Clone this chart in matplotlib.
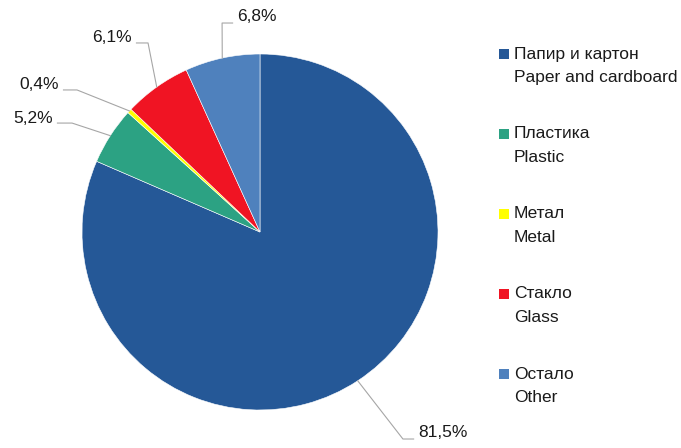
import numpy as np
import matplotlib.pyplot as plt
from matplotlib.patches import Rectangle

plt.rcParams['font.family'] = ['Liberation Sans Narrow', 'Liberation Sans', 'DejaVu Sans']

# data
labels_mk = ['Папир и картон', 'Пластика', 'Метал', 'Стакло', 'Остало']
labels_en = ['Paper and cardboard', 'Plastic', 'Metal', 'Glass', 'Other']
values = [81.5, 5.2, 0.4, 6.1, 6.8]
colors = ['#255897', '#2CA283', '#FFFF00', '#F01423', '#4F81BD']

# label placement (elbow x, elbow y, text x, text y, ha) in pie units
label_pos = [
    (0.803, -1.163, 0.888, -1.129, 'left'),
    (-1.056, 0.612, -1.163, 0.640, 'right'),
    (-1.028, 0.798, -1.129, 0.826, 'right'),
    (-0.629, 1.062, -0.719, 1.090, 'right'),
    (-0.213, 1.174, -0.129, 1.208, 'left'),
]

W, H = 681, 448
fig = plt.figure(figsize=(W / 100, H / 100), dpi=100)
cx, cy, r = 260, 232, 178
ax = fig.add_axes([(cx - r) / W, (H - cy - r) / H, 2 * r / W, 2 * r / H])

wedges, _ = ax.pie(values, colors=colors, startangle=90, counterclock=False,
                   radius=1, wedgeprops=dict(edgecolor='white', linewidth=0.4))
ax.set_xlim(-1, 1)
ax.set_ylim(-1, 1)
ax.set_aspect('equal')
ax.axis('off')

for w, v, (ex, ey, tx, ty, ha) in zip(wedges, values, label_pos):
    mid = np.deg2rad((w.theta1 + w.theta2) / 2)
    px, py = np.cos(mid), np.sin(mid)
    endx = tx - 0.025 if ha == 'left' else tx + 0.025
    ax.plot([px, ex, endx], [py, ey, ey], color='#A6A6A6', lw=0.8, clip_on=False)
    ax.text(tx, ty, f'{v:.1f}%'.replace('.', ','), ha=ha, va='center',
            fontsize=12.5, color='#1A1A1A', clip_on=False)

# legend drawn to the right
y0, step, gap = 54, 80, 23.5
for i, (mk, en, c) in enumerate(zip(labels_mk, labels_en, colors)):
    y = y0 + i * step
    fig.patches.append(Rectangle((499 / W, 1 - (y + 5) / H), 10 / W, 10 / H,
                                 transform=fig.transFigure, facecolor=c,
                                 edgecolor='none'))
    fig.text(514 / W, 1 - y / H, mk, ha='left', va='center', fontsize=12.5, color='#1A1A1A')
    fig.text(514 / W, 1 - (y + gap) / H, en, ha='left', va='center', fontsize=12.5, color='#1A1A1A')

fig.savefig('out.png', dpi=100)
